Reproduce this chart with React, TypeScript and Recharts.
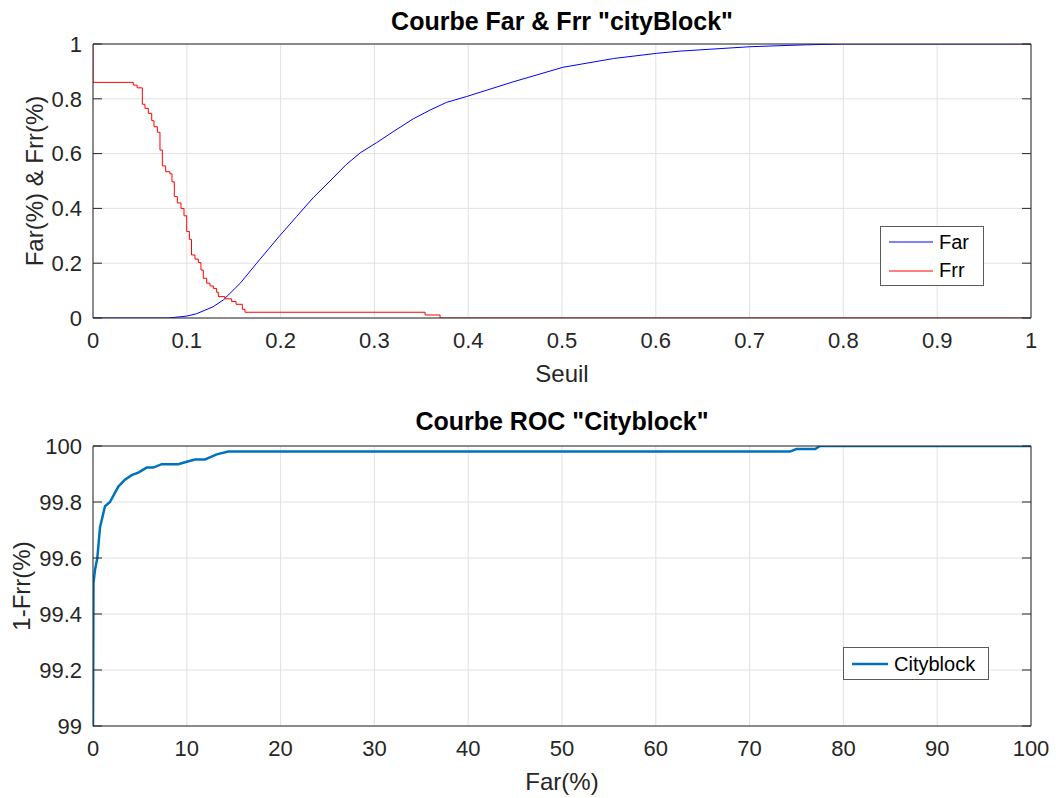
import React from "react";
import { LineChart, Line, XAxis, YAxis, CartesianGrid, Legend } from "recharts";

// seuil / taux pour Far et Frr
const farSeuil = [0, 0.08, 0.1, 0.11, 0.128, 0.139, 0.157, 0.1745, 0.199, 0.217, 0.235, 0.2527, 0.27, 0.285, 0.3024, 0.32, 0.3415, 0.36, 0.377, 0.398, 0.448, 0.501, 0.555, 0.601, 0.626, 0.7, 0.76, 0.8, 1];
const farRate = [0, 0, 0.007, 0.015, 0.041, 0.066, 0.127, 0.2, 0.3, 0.37, 0.44, 0.5, 0.56, 0.603, 0.64, 0.68, 0.727, 0.76, 0.787, 0.808, 0.862, 0.915, 0.947, 0.966, 0.974, 0.99, 0.997, 1, 1];

const frrSeuil = [0, 0, 0.043, 0.047, 0.0526, 0.0554, 0.059, 0.0626, 0.065, 0.0686, 0.0714, 0.0739, 0.0775, 0.082, 0.0842, 0.0867, 0.0899, 0.0938, 0.097, 0.0999, 0.1027, 0.105, 0.1087, 0.1123, 0.1151, 0.1176, 0.1212, 0.1247, 0.1283, 0.1318, 0.1336, 0.1407, 0.1478, 0.1525, 0.1592, 0.162, 0.354, 0.37, 1];
const frrRate = [1, 0.86, 0.85, 0.84, 0.78, 0.765, 0.747, 0.72, 0.698, 0.678, 0.613, 0.555, 0.534, 0.526, 0.497, 0.443, 0.42, 0.4, 0.373, 0.316, 0.287, 0.23, 0.215, 0.202, 0.175, 0.145, 0.127, 0.117, 0.108, 0.094, 0.078, 0.07, 0.06, 0.05, 0.032, 0.021, 0.011, 0, 0];

// courbe ROC : Far(%) -> 1-Frr(%)
const rocFar = [0, 0.05, 0.21, 0.46, 0.75, 1.28, 1.81, 2.7, 3.41, 4.12, 4.83, 5.72, 6.43, 7.32, 9.09, 9.99, 10.87, 11.94, 13.19, 14.43, 74.3, 75.0, 77.0, 77.5, 100];
const rocRate = [99, 99.51, 99.557, 99.6, 99.71, 99.785, 99.8, 99.855, 99.88, 99.896, 99.905, 99.923, 99.923, 99.935, 99.935, 99.944, 99.952, 99.952, 99.97, 99.98, 99.98, 99.989, 99.989, 100, 100];

const seuilTicks = [0, 0.1, 0.2, 0.3, 0.4, 0.5, 0.6, 0.7, 0.8, 0.9, 1];
const rateTicks = [0, 0.2, 0.4, 0.6, 0.8, 1];
const farPctTicks = [0, 10, 20, 30, 40, 50, 60, 70, 80, 90, 100];
const rocTicks = [99, 99.2, 99.4, 99.6, 99.8, 100];

const FONT = '"Liberation Sans", Arial, Helvetica, sans-serif';
const INK = "#262626";
const GRID = "#e2e2e2";

const farData = farSeuil.map((s, i) => ({ s, v: farRate[i] }));
const frrData = frrSeuil.map((s, i) => ({ s, v: frrRate[i] }));
const rocData = rocFar.map((s, i) => ({ s, v: rocRate[i] }));

const tickStyle = { fill: INK, fontSize: 22, fontFamily: FONT };
const blank = () => "";

// axes "cadre" de matlab : traits de graduation vers l'intérieur sur les 4 côtés
function frame(xDomain: number[], xTicks: number[], yDomain: number[], yTicks: number[]) {
  const line = { stroke: INK, strokeWidth: 1 };
  return [
    <XAxis key="xb" xAxisId="xb" orientation="bottom" mirror type="number" domain={xDomain} ticks={xTicks}
      tickSize={9} tickFormatter={blank} axisLine={line} tickLine={line} allowDataOverflow />,
    <XAxis key="xt" xAxisId="xt" orientation="top" mirror type="number" domain={xDomain} ticks={xTicks}
      tickSize={9} tickFormatter={blank} axisLine={line} tickLine={line} allowDataOverflow />,
    <YAxis key="yl" yAxisId="yl" orientation="left" mirror type="number" domain={yDomain} ticks={yTicks}
      tickSize={9} tickFormatter={blank} axisLine={line} tickLine={line} allowDataOverflow />,
    <YAxis key="yr" yAxisId="yr" orientation="right" mirror type="number" domain={yDomain} ticks={yTicks}
      tickSize={9} tickFormatter={blank} axisLine={line} tickLine={line} allowDataOverflow />,
  ];
}

function BoxLegend({ payload, width, height, lineLen, rowH }: any) {
  return (
    <div style={{ width, height, boxSizing: "border-box", border: "1px solid #5a5a5a", background: "#fff",
      padding: "1px 0 0 8px", fontFamily: FONT, fontSize: 20, color: "#000" }}>
      {(payload || []).map((p: any) => (
        <div key={p.value} style={{ display: "flex", alignItems: "center", height: rowH }}>
          <svg width={lineLen} height={6} style={{ marginRight: 6 }}>
            <line x1={0} x2={lineLen} y1={3} y2={3} stroke={p.color} strokeWidth={p.payload?.strokeWidth || 1} />
          </svg>
          <span>{p.value}</span>
        </div>
      ))}
    </div>
  );
}

const abs = (left: number, top: number, extra: any = {}) => ({
  position: "absolute" as const, left, top, fontFamily: FONT, whiteSpace: "nowrap" as const, ...extra,
});

export default function App() {
  return (
    <div style={{ position: "absolute", left: 0, top: 0, width: 1056, height: 798, background: "#fff" }}>
      <div style={abs(562, 21, { transform: "translate(-50%,-50%)", fontSize: 25, fontWeight: "bold", color: "#000" })}>
        Courbe Far &amp; Frr "cityBlock"
      </div>
      <div style={abs(35, 181, { transform: "translate(-50%,-50%) rotate(-90deg)", fontSize: 24, color: INK })}>
        Far(%) &amp; Frr(%)
      </div>
      <div style={abs(562, 374, { transform: "translate(-50%,-50%)", fontSize: 24, color: INK })}>Seuil</div>

      <div style={{ position: "absolute", left: 0, top: 0 }}>
        <LineChart width={1056} height={400} margin={{ top: 44, right: 25, left: 23, bottom: 52 }}>
          <CartesianGrid xAxisId="x" yAxisId="y" stroke={GRID} horizontalValues={rateTicks} verticalValues={seuilTicks} />
          <XAxis xAxisId="x" dataKey="s" type="number" domain={[0, 1]} ticks={seuilTicks} interval={0}
            height={30} tickSize={0} tickMargin={14} axisLine={false} tickLine={false} tick={tickStyle} allowDataOverflow />
          <YAxis yAxisId="y" type="number" domain={[0, 1]} ticks={rateTicks} interval={0}
            width={70} tickSize={0} tickMargin={11} axisLine={false} tickLine={false} tick={tickStyle} allowDataOverflow />
          {frame([0, 1], seuilTicks, [0, 1], rateTicks)}
          <Line xAxisId="x" yAxisId="y" data={farData} dataKey="v" name="Far" type="linear"
            stroke="#0000ff" strokeWidth={1} dot={false} activeDot={false} isAnimationActive={false} />
          <Line xAxisId="x" yAxisId="y" data={frrData} dataKey="v" name="Frr" type="stepAfter"
            stroke="#ff0000" strokeWidth={1} dot={false} activeDot={false} isAnimationActive={false} />
          <Legend layout="vertical" align="center" verticalAlign="middle"
            wrapperStyle={{ left: 880, top: 226, width: 104, height: 60 }}
            content={(props: any) => <BoxLegend {...props} width={104} height={60} lineLen={44} rowH={28.5} />} />
        </LineChart>
      </div>

      <div style={abs(562, 421, { transform: "translate(-50%,-50%)", fontSize: 25, fontWeight: "bold", color: "#000" })}>
        Courbe ROC "Cityblock"
      </div>
      <div style={abs(22, 586, { transform: "translate(-50%,-50%) rotate(-90deg)", fontSize: 24, color: INK })}>
        1-Frr(%)
      </div>
      <div style={abs(562, 782, { transform: "translate(-50%,-50%)", fontSize: 24, color: INK })}>Far(%)</div>

      <div style={{ position: "absolute", left: 0, top: 400 }}>
        <LineChart width={1056} height={398} margin={{ top: 46, right: 25, left: 23, bottom: 42 }}>
          <CartesianGrid xAxisId="x" yAxisId="y" stroke={GRID} horizontalValues={rocTicks} verticalValues={farPctTicks} />
          <XAxis xAxisId="x" dataKey="s" type="number" domain={[0, 100]} ticks={farPctTicks} interval={0}
            height={30} tickSize={0} tickMargin={14} axisLine={false} tickLine={false} tick={tickStyle} allowDataOverflow />
          <YAxis yAxisId="y" type="number" domain={[99, 100]} ticks={rocTicks} interval={0}
            width={70} tickSize={0} tickMargin={11} axisLine={false} tickLine={false} tick={tickStyle} allowDataOverflow />
          {frame([0, 100], farPctTicks, [99, 100], rocTicks)}
          <Line xAxisId="x" yAxisId="y" data={rocData} dataKey="v" name="Cityblock" type="linear"
            stroke="#0072bd" strokeWidth={2.5} dot={false} activeDot={false} isAnimationActive={false} />
          <Legend layout="vertical" align="center" verticalAlign="middle"
            wrapperStyle={{ left: 843, top: 247, width: 146, height: 33 }}
            content={(props: any) => <BoxLegend {...props} width={146} height={33} lineLen={36} rowH={30} />} />
        </LineChart>
      </div>
    </div>
  );
}
